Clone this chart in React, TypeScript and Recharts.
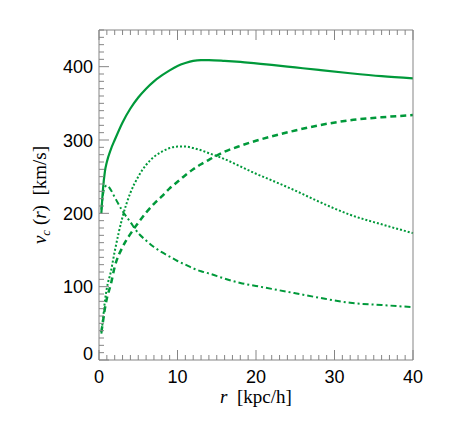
import { LineChart, Line, XAxis, YAxis, Label } from 'recharts';

// rotation curve components
const radius = [0.3, 0.5, 0.75, 1, 1.5, 2, 3, 4, 5, 6, 7, 8, 9, 10, 11, 12, 13, 14, 16, 18, 20, 22, 25, 28, 32, 36, 40];
const totalVc = [200, 232, 257, 270, 287, 300, 324, 343, 358, 370, 380, 388, 395, 401, 405, 408, 409, 409, 408, 406.5, 404.5, 402.5, 399, 395.5, 391, 387, 384];
const haloVc = [38, 52, 70, 84, 103, 127, 154, 172, 187, 201, 213, 223, 234, 243, 252, 260, 267, 273, 284, 292, 299, 305, 313, 320, 327, 331, 334];
const diskVc = [36, 55, 80, 98, 120, 148, 195, 228, 250, 266, 277, 284, 289, 291, 291, 289, 286, 282, 274, 264, 254, 245, 231, 216, 198, 185, 173];
const bulgeVc = [205, 225, 236, 238, 232, 222, 203, 188, 173, 163, 154, 147, 141, 135, 130, 125, 121, 118, 111, 105, 101, 97, 91, 85, 78, 75, 72];

const xTicks = Array.from({ length: 41 }, (_, i) => i);
const yTicks = Array.from({ length: 46 }, (_, i) => i * 10);
const xMajorStep = 10;
const yMajorStep = 100;

const data = radius.map((r, i) => ({
  r,
  total: totalVc[i],
  halo: haloVc[i],
  disk: diskVc[i],
  bulge: bulgeVc[i],
}));

const GREEN = '#00993a';
const GREY = '#858585';
const sansStyle = { fontFamily: "'Liberation Sans', Arial, sans-serif" };
const serifStyle = { fontFamily: "'Liberation Serif', 'Times New Roman', serif" };

const BottomTick = (props: any) => {
  const { x, y, payload } = props;
  const major = payload.value % xMajorStep === 0;
  return (
    <g>
      <line x1={x} x2={x} y1={y} y2={y - (major ? 10 : 5)} stroke={GREY} />
      {major && (
        <text x={x} y={y + 23} textAnchor="middle" style={sansStyle} fontSize={18} fill="#000">
          {payload.value}
        </text>
      )}
    </g>
  );
};

const TopTick = (props: any) => {
  const { x, y, payload } = props;
  const major = payload.value % xMajorStep === 0;
  return <line x1={x} x2={x} y1={y} y2={y + (major ? 10 : 5)} stroke={GREY} />;
};

const LeftTick = (props: any) => {
  const { x, y, payload } = props;
  const major = payload.value % yMajorStep === 0;
  return (
    <g>
      <line x1={x} x2={x + (major ? 10 : 5)} y1={y} y2={y} stroke={GREY} />
      {major && (
        <text
          x={x - 6}
          y={y + 6.5 - (payload.value === 0 ? 7 : 0)}
          textAnchor="end"
          style={sansStyle}
          fontSize={18}
          fill="#000"
        >
          {payload.value}
        </text>
      )}
    </g>
  );
};

const RightTick = (props: any) => {
  const { x, y, payload } = props;
  const major = payload.value % yMajorStep === 0;
  return <line x1={x} x2={x - (major ? 10 : 5)} y1={y} y2={y} stroke={GREY} />;
};

export default function App() {
  return (
    <div style={{ position: 'absolute', left: 0, top: 0, background: '#fff' }}>
      <LineChart width={452} height={436} data={data} margin={{ top: 29, right: 38, bottom: 75, left: 98 }}>
        <XAxis
          dataKey="r"
          type="number"
          domain={[0, 40]}
          ticks={xTicks}
          interval={0}
          height={1}
          tickSize={0}
          tickMargin={0}
          tickLine={false}
          tick={BottomTick}
          axisLine={{ stroke: GREY }}
        >
          <Label
            content={() => (
              <text x={256} y={403} textAnchor="middle" style={serifStyle} fontSize={19} fill="#000">
                <tspan fontStyle="italic">r</tspan>
                <tspan>{'\u00a0 [kpc/h]'}</tspan>
              </text>
            )}
          />
        </XAxis>
        <XAxis
          xAxisId="top"
          orientation="top"
          dataKey="r"
          type="number"
          domain={[0, 40]}
          ticks={xTicks}
          interval={0}
          height={1}
          tickSize={0}
          tickMargin={0}
          tickLine={false}
          tick={TopTick}
          axisLine={{ stroke: GREY }}
        />
        <YAxis
          type="number"
          domain={[0, 450]}
          ticks={yTicks}
          interval={0}
          width={1}
          tickSize={0}
          tickMargin={0}
          tickLine={false}
          tick={LeftTick}
          axisLine={{ stroke: GREY }}
        >
          <Label
            content={() => (
              <text
                x={46}
                y={195}
                transform="rotate(-90, 46, 195)"
                textAnchor="middle"
                style={serifStyle}
                fontSize={19}
                fill="#000"
              >
                <tspan fontStyle="italic">v</tspan>
                <tspan fontStyle="italic" fontSize={13} dy={4}>c</tspan>
                <tspan dy={-4}>{'\u00a0('}</tspan>
                <tspan fontStyle="italic">r</tspan>
                <tspan>{')\u00a0\u00a0[km/s]'}</tspan>
              </text>
            )}
          />
        </YAxis>
        <YAxis
          yAxisId="right"
          orientation="right"
          type="number"
          domain={[0, 450]}
          ticks={yTicks}
          interval={0}
          width={1}
          tickSize={0}
          tickMargin={0}
          tickLine={false}
          tick={RightTick}
          axisLine={{ stroke: GREY }}
        />
        <Line type="monotone" dataKey="total" stroke={GREEN} strokeWidth={2.2} dot={false} isAnimationActive={false} />
        <Line type="monotone" dataKey="halo" stroke={GREEN} strokeWidth={2.5} strokeDasharray="6 4" dot={false} isAnimationActive={false} />
        <Line type="monotone" dataKey="disk" stroke={GREEN} strokeWidth={2} strokeDasharray="2 2" dot={false} isAnimationActive={false} />
        <Line type="monotone" dataKey="bulge" stroke={GREEN} strokeWidth={2} strokeDasharray="6 3 2 3" dot={false} isAnimationActive={false} />
      </LineChart>
    </div>
  );
}
